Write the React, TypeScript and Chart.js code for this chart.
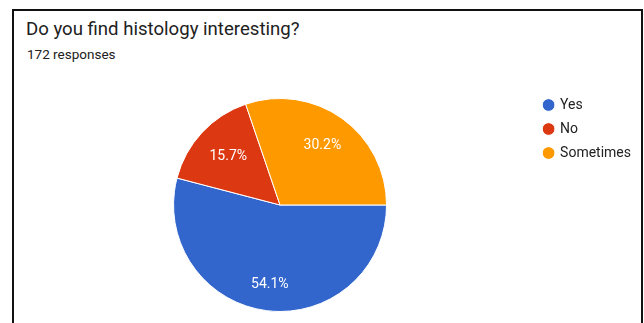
import React, { useEffect, useRef } from "react";
import { Chart, registerables } from "chart.js";

Chart.register(...registerables);

const titleText = "Do you find histology interesting?";
const subtitleText = "172 responses";
const categories = ["Yes", "No", "Sometimes"];
const counts = [93, 27, 52];
const colors = ["#3366CC", "#DC3912", "#FF9900"];

const FONT = "Roboto, 'Noto Sans', Arial, sans-serif";

const sliceLabels = {
  id: "sliceLabels",
  afterDatasetsDraw(chart: any) {
    const ctx = chart.ctx;
    const meta = chart.getDatasetMeta(0);
    const data = chart.data.datasets[0].data as number[];
    const total = data.reduce((a, b) => a + b, 0);
    ctx.save();
    ctx.font = `14px ${FONT}`;
    ctx.fillStyle = "#ffffff";
    ctx.textAlign = "center";
    ctx.textBaseline = "middle";
    meta.data.forEach((arc: any, i: number) => {
      const { x, y, startAngle, endAngle, outerRadius } = arc.getProps(
        ["x", "y", "startAngle", "endAngle", "outerRadius"],
        true
      );
      const mid = (startAngle + endAngle) / 2;
      const c = Math.cos(mid);
      const s = Math.sin(mid);
      const text = ((data[i] / total) * 100).toFixed(1) + "%";
      const w = ctx.measureText(text).width;
      const h = 13;
      const extent = Math.abs(c) * (w / 2) + Math.abs(s) * (h / 2);
      const d = outerRadius * 0.835 - extent;
      ctx.fillText(text, x + c * d, y + s * d);
    });
    ctx.restore();
  },
};

function PieChart() {
  const ref = useRef<HTMLCanvasElement | null>(null);
  useEffect(() => {
    if (!ref.current) return;
    const chart = new Chart(ref.current, {
      type: "pie",
      data: {
        labels: categories,
        datasets: [
          {
            data: counts,
            backgroundColor: colors,
            borderColor: "#ffffff",
            borderWidth: 1,
            radius: 106.5,
          },
        ],
      },
      options: {
        animation: false,
        responsive: false,
        maintainAspectRatio: false,
        rotation: 90,
        layout: { padding: 0 },
        plugins: {
          tooltip: { enabled: false },
          legend: {
            position: "right",
            align: "start",
            labels: {
              usePointStyle: true,
              pointStyle: "circle",
              boxWidth: 9,
              boxHeight: 9,
              padding: 10,
              color: "#222222",
              font: { family: FONT, size: 14 },
            },
          },
        },
      },
      plugins: [sliceLabels],
    });
    return () => chart.destroy();
  }, []);
  return (
    <canvas
      ref={ref}
      width={615}
      height={234}
      style={{ position: "absolute", left: 26, top: 88, width: 615, height: 234 }}
    />
  );
}

export default function App() {
  return (
    <div
      style={{
        position: "fixed",
        left: 0,
        top: 0,
        width: 644,
        height: 323,
        background: "#ffffff",
        overflow: "hidden",
        fontFamily: FONT,
      }}
    >
      <div
        style={{
          position: "absolute",
          left: 12,
          top: 9,
          width: 631,
          height: 330,
          boxSizing: "border-box",
          borderLeft: "2px solid #111",
          borderTop: "2px solid #111",
          borderRight: "2px solid #111",
        }}
      />
      <div
        style={{
          position: "absolute",
          left: 26,
          top: 17.5,
          fontSize: 18.6,
          color: "#212121",
          whiteSpace: "nowrap",
        }}
      >
        {titleText}
      </div>
      <div
        style={{
          position: "absolute",
          left: 27,
          top: 46,
          fontSize: 13.5,
          color: "#212121",
          whiteSpace: "nowrap",
        }}
      >
        {subtitleText}
      </div>
      <PieChart />
    </div>
  );
}
